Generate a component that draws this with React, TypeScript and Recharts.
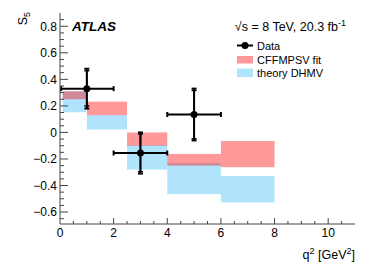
import React from 'react';
import { ComposedChart, XAxis, YAxis, Scatter, ErrorBar, ReferenceArea } from 'recharts';

// Data points (ATLAS)
const dataX = [1, 3, 5];
const dataY = [0.33, -0.155, 0.135];
const dataXLow = [0.04, 2, 4];
const dataXHigh = [2, 4, 6];
const totLow = [0.18, -0.31, -0.06];
const totHigh = [0.48, 0.0, 0.33];
const statLow = [0.2, -0.296, -0.048];
const statHigh = [0.465, -0.012, 0.316];

// Theory bins
const binLow = [0.1, 1.0, 2.5, 4, 6];
const binHigh = [0.98, 2.5, 4, 6, 8];
const fitLow = [0.25, 0.13, -0.1, -0.25, -0.262];
const fitHigh = [0.31, 0.232, 0.0, -0.162, -0.065];
const theoryLow = [0.152, 0.022, -0.28, -0.465, -0.527];
const theoryHigh = [0.31, 0.13, -0.095, -0.23, -0.328];

// Ticks
const xTicks = [0, 0.5, 1, 1.5, 2, 2.5, 3, 3.5, 4, 4.5, 5, 5.5, 6, 6.5, 7, 7.5, 8, 8.5, 9, 9.5, 10, 10.5];
const yTicks = [-0.65, -0.6, -0.55, -0.5, -0.45, -0.4, -0.35, -0.3, -0.25, -0.2, -0.15, -0.1, -0.05, 0,
  0.05, 0.1, 0.15, 0.2, 0.25, 0.3, 0.35, 0.4, 0.45, 0.5, 0.55, 0.6, 0.65, 0.7, 0.75, 0.8, 0.85];

const FONT = '"Liberation Sans", Arial, Helvetica, sans-serif';
const AXIS = '#444';
const RED = '#ff0000';
const RED_OPACITY = 0.4;
const BLUE = '#b0e4fc';

const scatterData = dataX.map((x, i) => ({
  x,
  y: dataY[i],
  xErr: [x - dataXLow[i], dataXHigh[i] - x],
  tot: [dataY[i] - totLow[i], totHigh[i] - dataY[i]],
  stat: [dataY[i] - statLow[i], statHigh[i] - dataY[i]],
}));

const isMajorX = (v: number) => Math.round(v * 2) % 4 === 0;
const isMajorY = (v: number) => Math.round(v * 100) % 20 === 0;
const fmtY = (v: number) => {
  const r = Math.round(v * 10) / 10;
  if (r === 0) return '0';
  return (r < 0 ? '\u2212' : '') + Math.abs(r).toFixed(1);
};

const BottomTick = (props: any) => {
  const { x, y, payload } = props;
  const v = payload.value;
  const major = isMajorX(v);
  return (
    <g>
      {v > 0 && v < 11 && <line x1={x} x2={x} y1={y} y2={y - (major ? 6 : 3)} stroke={AXIS} strokeWidth={1} />}
      {major && (
        <text x={x} y={y + 13} textAnchor="middle" fontSize={12} fontFamily={FONT} fill="#000">{v}</text>
      )}
    </g>
  );
};

const TopTick = (props: any) => {
  const { x, y, payload } = props;
  const v = payload.value;
  const major = isMajorX(v);
  if (v <= 0 || v >= 11) return <g />;
  return <line x1={x} x2={x} y1={y} y2={y + (major ? 6 : 3)} stroke={AXIS} strokeWidth={1} />;
};

const LeftTick = (props: any) => {
  const { x, y, payload } = props;
  const v = payload.value;
  const major = isMajorY(v);
  return (
    <g>
      <line x1={x} x2={x + (major ? 8 : 4)} y1={y} y2={y} stroke={AXIS} strokeWidth={1} />
      {major && (
        <text x={x - 3} y={y + 4.3} textAnchor="end" fontSize={12} fontFamily={FONT} fill="#000">{fmtY(v)}</text>
      )}
    </g>
  );
};

const RightTick = (props: any) => {
  const { x, y, payload } = props;
  const v = payload.value;
  const major = isMajorY(v);
  return <line x1={x} x2={x - (major ? 8 : 4)} y1={y} y2={y} stroke={AXIS} strokeWidth={1} />;
};

const boxShape = (fill: string, opacity: number) => (p: any) => (
  <rect x={p.x} y={p.y} width={p.width} height={p.height} fill={fill} fillOpacity={opacity} />
);

const Dot = (p: any) => <circle cx={p.cx} cy={p.cy} r={3.5} fill="#000" />;

export default function App() {
  return (
    <div style={{ position: 'fixed', left: 0, top: 0, width: 374, height: 268, background: '#fff' }}>
      <ComposedChart width={374} height={268} margin={{ top: 13, right: 19, bottom: 0, left: 0 }}>
        <XAxis xAxisId={0} type="number" dataKey="x" domain={[0, 11]} ticks={xTicks} interval={0}
          allowDataOverflow orientation="bottom" height={44} tickSize={0} tickMargin={0}
          tick={<BottomTick />} axisLine={{ stroke: AXIS, strokeWidth: 1 }} tickLine={false} />
        <XAxis xAxisId="top" type="number" domain={[0, 11]} ticks={xTicks} interval={0}
          allowDataOverflow orientation="top" height={0} tickSize={0} tickMargin={0}
          tick={<TopTick />} axisLine={{ stroke: AXIS, strokeWidth: 1 }} tickLine={false} />
        <YAxis yAxisId={0} type="number" domain={[-0.69, 0.9]} ticks={yTicks} interval={0}
          allowDataOverflow orientation="left" width={60} tickSize={0} tickMargin={0}
          tick={<LeftTick />} axisLine={{ stroke: AXIS, strokeWidth: 1 }} tickLine={false} />
        <YAxis yAxisId="right" type="number" domain={[-0.69, 0.9]} ticks={yTicks} interval={0}
          allowDataOverflow orientation="right" width={0} tickSize={0} tickMargin={0}
          tick={<RightTick />} axisLine={{ stroke: AXIS, strokeWidth: 1 }} tickLine={false} />

        {binLow.map((lo, i) => (
          <ReferenceArea key={'t' + i} x1={lo} x2={binHigh[i]} y1={theoryLow[i]} y2={theoryHigh[i]}
            shape={boxShape(BLUE, 1)} />
        ))}
        {binLow.map((lo, i) => (
          <ReferenceArea key={'f' + i} x1={lo} x2={binHigh[i]} y1={fitLow[i]} y2={fitHigh[i]}
            shape={boxShape(RED, RED_OPACITY)} />
        ))}

        <Scatter data={scatterData} dataKey="y" shape={<Dot />} isAnimationActive={false}>
          <ErrorBar dataKey="xErr" direction="x" width={2.5} stroke="#000" strokeWidth={2} isAnimationActive={false} />
          <ErrorBar dataKey="tot" direction="y" width={2.5} stroke="#000" strokeWidth={2} isAnimationActive={false} />
          <ErrorBar dataKey="stat" direction="y" width={2.5} stroke="#000" strokeWidth={1.5} isAnimationActive={false} />
        </Scatter>
      </ComposedChart>

      <svg width={374} height={268} style={{ position: 'absolute', left: 0, top: 0, pointerEvents: 'none' }}>
        <text x={72} y={31} fontSize={13.5} fontWeight="bold" fontStyle="italic" fontFamily={FONT} fill="#000">ATLAS</text>
        <text x={346} y={30.5} textAnchor="end" fontSize={12.5} fontFamily={FONT} fill="#000">
          {'\u221As = 8 TeV, 20.3 fb'}
          <tspan fontSize={9} dy={-5}>{'-1'}</tspan>
        </text>

        <line x1={237} x2={253} y1={45.5} y2={45.5} stroke="#000" strokeWidth={2} />
        <circle cx={245} cy={45.5} r={3.5} fill="#000" />
        <text x={257} y={49.5} fontSize={11} fontFamily={FONT} fill="#000">Data</text>
        <rect x={237} y={56} width={16} height={7.5} fill={RED} fillOpacity={RED_OPACITY} />
        <text x={257} y={63.5} fontSize={11} fontFamily={FONT} fill="#000">CFFMPSV fit</text>
        <rect x={237} y={68.5} width={16} height={8.5} fill={BLUE} />
        <text x={257} y={76.5} fontSize={11} fontFamily={FONT} fill="#000">theory DHMV</text>

        <text x={27} y={12} textAnchor="end" transform="rotate(-90 27 12)" fontSize={12.5} fontFamily={FONT} fill="#000">
          S<tspan fontSize={9} dy={3}>5</tspan>
        </text>
        <text x={355} y={259} textAnchor="end" fontSize={12.5} fontFamily={FONT} fill="#000">
          q<tspan fontSize={9} dy={-5}>2</tspan><tspan dy={5}>{' [GeV'}</tspan><tspan fontSize={9} dy={-5}>2</tspan><tspan dy={5}>]</tspan>
        </text>
      </svg>
    </div>
  );
}
